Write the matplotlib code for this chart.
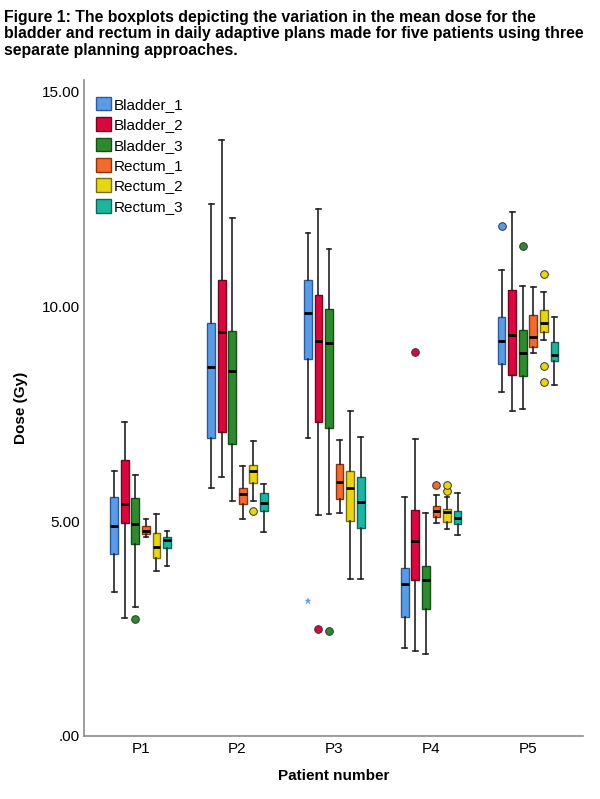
import matplotlib
matplotlib.use("Agg")
from matplotlib import pyplot as plt
from matplotlib.patches import Patch

plt.rcParams['font.family'] = ['Liberation Sans', 'DejaVu Sans']

patients = ['P1', 'P2', 'P3', 'P4', 'P5']
series = ['Bladder_1', 'Bladder_2', 'Bladder_3', 'Rectum_1', 'Rectum_2', 'Rectum_3']

# per patient: [whisker low, q1, median, q3, whisker high]
bladder_1 = [[3.36, 4.24, 4.90, 5.56, 6.18],
             [5.77, 6.93, 8.59, 9.61, 12.39],
             [6.95, 8.77, 9.84, 10.62, 11.71],
             [2.04, 2.77, 3.55, 3.91, 5.57],
             [8.01, 8.66, 9.21, 9.75, 10.85]]
bladder_2 = [[2.74, 4.95, 5.41, 6.43, 7.32],
             [6.02, 7.09, 9.42, 10.61, 13.87],
             [5.15, 7.31, 9.21, 10.26, 12.27],
             [1.98, 3.64, 4.53, 5.26, 6.91],
             [7.58, 8.41, 9.35, 10.39, 12.21]]
bladder_3 = [[3.00, 4.48, 4.94, 5.54, 6.08],
             [5.48, 6.80, 8.51, 9.43, 12.06],
             [5.16, 7.17, 9.16, 9.95, 11.34],
             [1.90, 2.95, 3.64, 3.97, 5.19],
             [7.62, 8.39, 8.92, 9.46, 10.48]]
rectum_1 = [[4.64, 4.71, 4.78, 4.88, 5.05],
            [5.05, 5.40, 5.63, 5.77, 6.29],
            [5.19, 5.52, 5.92, 6.34, 6.89],
            [4.96, 5.09, 5.23, 5.36, 5.62],
            [8.91, 9.06, 9.30, 9.81, 10.45]]
rectum_2 = [[3.85, 4.14, 4.41, 4.73, 5.16],
            [5.47, 5.89, 6.17, 6.30, 6.88],
            [3.65, 5.01, 5.77, 6.17, 7.57],
            [4.81, 4.98, 5.21, 5.28, 5.57],
            [9.22, 9.41, 9.61, 9.92, 10.35]]
rectum_3 = [[3.97, 4.37, 4.57, 4.64, 4.78],
            [4.74, 5.23, 5.42, 5.65, 5.87],
            [3.65, 4.84, 5.44, 6.03, 6.97],
            [4.68, 4.93, 5.07, 5.25, 5.67],
            [8.17, 8.74, 8.87, 9.17, 9.75]]

# outliers (circles) per patient
bladder_1_out = [[], [], [], [], [11.88]]
bladder_2_out = [[], [], [2.49], [8.94], []]
bladder_3_out = [[2.72], [], [2.45], [], [11.42]]
rectum_1_out = [[], [], [], [5.84], []]
rectum_2_out = [[], [5.23], [], [5.71, 5.84], [10.75, 8.61, 8.25]]
rectum_3_out = [[], [], [], [], []]

# extreme values (stars) per patient
bladder_1_ext = [[], [], [3.15], [], []]

all_stats = [bladder_1, bladder_2, bladder_3, rectum_1, rectum_2, rectum_3]
all_out = [bladder_1_out, bladder_2_out, bladder_3_out, rectum_1_out, rectum_2_out, rectum_3_out]

fill_colors = ['#5b9be6', '#d9083f', '#2f8a2f', '#f26a2e', '#e8d616', '#1cb5a0']
edge_colors = ['#2a5a9a', '#7a0020', '#184f18', '#8a3510', '#7a6e00', '#0c6659']

fig = plt.figure(figsize=(6, 7.99), dpi=100)
ax = fig.add_axes([0.14, 0.0789, 0.832, 0.8216])

step = 0.109
width = 0.08
for k, (stats, outs) in enumerate(zip(all_stats, all_out)):
    offset = (k - 2.5) * step
    bx = []
    for i, s in enumerate(stats):
        bx.append(dict(whislo=s[0], q1=s[1], med=s[2], q3=s[3], whishi=s[4],
                       fliers=outs[i], label=patients[i]))
    ax.bxp(bx, positions=[i + offset for i in range(len(patients))],
           widths=width, patch_artist=True, showfliers=True,
           boxprops=dict(facecolor=fill_colors[k], edgecolor=edge_colors[k], linewidth=1.0),
           medianprops=dict(color='black', linewidth=2.0),
           whiskerprops=dict(color='#222222', linewidth=1.2),
           capprops=dict(color='#222222', linewidth=1.2),
           capwidths=0.05,
           flierprops=dict(marker='o', markersize=5.5, markerfacecolor=fill_colors[k],
                           markeredgecolor='#333333', markeredgewidth=0.7))

for i, vals in enumerate(bladder_1_ext):
    for v in vals:
        ax.plot(i - 2.5 * step, v, marker='*', markersize=5, color=fill_colors[0],
                markeredgewidth=0.3)

ax.set_xlim(-0.585, 4.57)
ax.set_ylim(0, 15.29)
ax.set_xticks(range(len(patients)))
ax.set_xticklabels(patients)
ax.set_yticks([0, 5, 10, 15])
ax.set_yticklabels(['.00', '5.00', '10.00', '15.00'])
ax.tick_params(axis='both', length=0, labelsize=11)
ax.tick_params(axis='y', pad=3)
ax.tick_params(axis='x', pad=4)
for side in ['top', 'right']:
    ax.spines[side].set_visible(False)
for side in ['left', 'bottom']:
    ax.spines[side].set_color('#8c8c8c')
    ax.spines[side].set_linewidth(1.2)

ax.set_xlabel('Patient number', fontsize=11, fontweight='bold', labelpad=10)
ax.set_ylabel('Dose (Gy)', fontsize=11, fontweight='bold', labelpad=10)

handles = [Patch(facecolor=fill_colors[k], edgecolor=edge_colors[k], label=series[k])
           for k in range(len(series))]
ax.legend(handles=handles, loc='upper left', bbox_to_anchor=(0.002, 0.99), frameon=False,
          fontsize=11, handlelength=1.0, handleheight=1.0, handletextpad=0.2,
          labelspacing=0.35, borderaxespad=0.3)

fig.text(0.007, 0.987,
         'Figure 1: The boxplots depicting the variation in the mean dose for the\n'
         'bladder and rectum in daily adaptive plans made for five patients using three\n'
         'separate planning approaches.',
         ha='left', va='top', fontsize=11.4, fontweight='bold', linespacing=1.09)

fig.savefig('out.png', dpi=100)
